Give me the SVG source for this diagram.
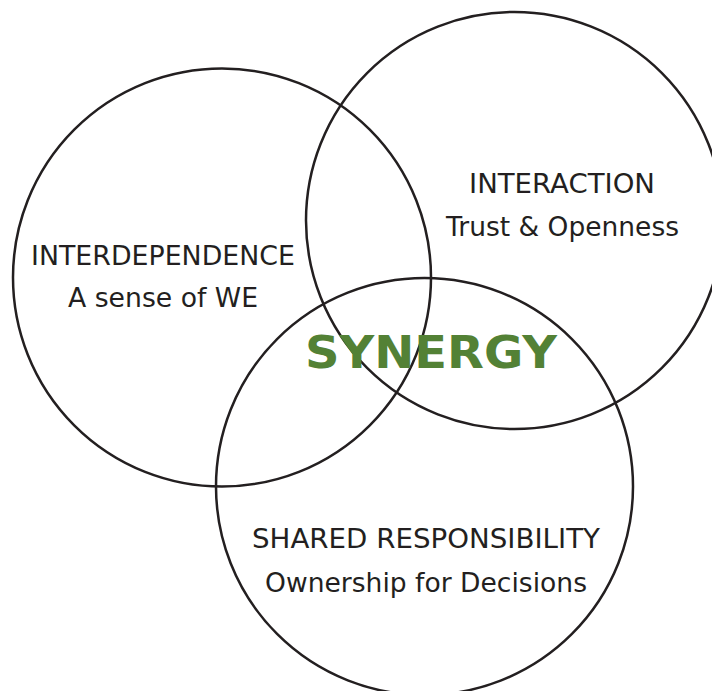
<svg xmlns="http://www.w3.org/2000/svg" width="712" height="691" viewBox="0 0 712 691">
  <style>
    .ring { fill: none; stroke: #231f20; stroke-width: 2.5; }
    .label { font-family: "DejaVu Sans", Verdana, sans-serif; font-size: 26px; fill: #231f20; text-anchor: middle; }
    .core { font-family: "DejaVu Sans", Verdana, sans-serif; font-size: 45px; font-weight: bold; fill: #538135; text-anchor: middle; }
  </style>
  <rect width="712" height="691" fill="#ffffff"/>

  <g id="interdependence">
    <circle class="ring" cx="222" cy="277.5" r="209"/>
    <text class="label" x="163" y="265" textLength="264" lengthAdjust="spacingAndGlyphs">INTERDEPENDENCE</text>
    <text class="label" x="163" y="307" textLength="190" lengthAdjust="spacingAndGlyphs">A sense of WE</text>
  </g>

  <g id="interaction">
    <circle class="ring" cx="514.5" cy="220.5" r="208.5"/>
    <text class="label" x="562" y="193" textLength="186" lengthAdjust="spacingAndGlyphs">INTERACTION</text>
    <text class="label" x="562.5" y="236" textLength="233" lengthAdjust="spacingAndGlyphs">Trust &amp; Openness</text>
  </g>

  <g id="shared-responsibility">
    <circle class="ring" cx="424.5" cy="486.5" r="208.5"/>
    <text class="label" x="426" y="548" textLength="348" lengthAdjust="spacingAndGlyphs">SHARED RESPONSIBILITY</text>
    <text class="label" x="426" y="592" textLength="322" lengthAdjust="spacingAndGlyphs">Ownership for Decisions</text>
  </g>

  <g id="synergy">
    <text class="core" x="431" y="368" textLength="252" lengthAdjust="spacingAndGlyphs">SYNERGY</text>
  </g>

  <g id="connectors"></g>
</svg>
